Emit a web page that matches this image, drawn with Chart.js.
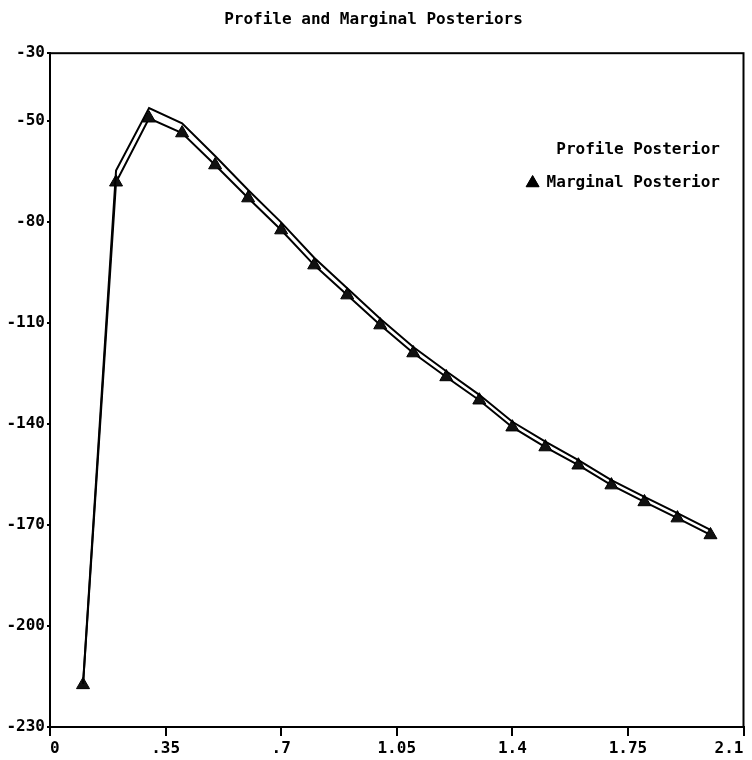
<!DOCTYPE html>
<html>
<head>
<meta charset="utf-8">
<script src="https://cdn.jsdelivr.net/npm/chart.js@4/dist/chart.umd.min.js"></script>
<style>
  html, body { margin: 0; padding: 0; background: #fff; }
  #wrap { width: 752px; height: 760px; }
</style>
</head>
<body>
<div id="wrap"><canvas id="posteriors"></canvas></div>
<script>
// values
const xs = [0.1, 0.2, 0.3, 0.4, 0.5, 0.6, 0.7, 0.8, 0.9, 1.0, 1.1, 1.2, 1.3, 1.4, 1.5, 1.6, 1.7, 1.8, 1.9, 2.0];
const marginal = [-217.5, -68.3, -49.3, -53.7, -63.2, -73.0, -82.5, -92.9, -101.8, -110.7, -119.0, -126.1, -133.0, -141.0, -146.9, -152.3, -158.2, -163.2, -168.0, -173.0];
const profile = [-217.2, -64.8, -46.3, -50.8, -60.5, -70.6, -80.2, -90.7, -99.8, -108.8, -117.2, -124.4, -131.4, -139.4, -145.3, -150.8, -156.7, -161.7, -166.5, -171.5];

const xTicks = [0, 0.35, 0.7, 1.05, 1.4, 1.75, 2.1];
const xTickLabels = ['0', '.35', '.7', '1.05', '1.4', '1.75', '2.1'];
const yTicks = [-230, -200, -170, -140, -110, -80, -50, -30];
const yTickLabels = ['-230', '-200', '-170', '-140', '-110', '-80', '-50', '-30'];

const FONT = '"DejaVu Sans Mono", "Liberation Mono", monospace';

// frame round the plot area (top and right sides too)
const frame = {
  id: 'frame',
  afterDraw(chart) {
    const { ctx, chartArea: a } = chart;
    ctx.save();
    ctx.strokeStyle = '#000';
    ctx.lineWidth = 2;
    ctx.strokeRect(a.left, a.top, a.right - a.left, a.bottom - a.top);
    ctx.restore();
  }
};

// legend sits inside the plot, right aligned
const insideLegend = {
  id: 'insideLegend',
  afterDraw(chart) {
    const { ctx } = chart;
    const sets = chart.data.datasets;
    ctx.save();
    ctx.fillStyle = '#000';
    ctx.font = 'bold 16px ' + FONT;
    ctx.textAlign = 'right';
    ctx.textBaseline = 'middle';
    ctx.fillText(sets[0].label, 720, 150);
    ctx.fillText(sets[1].label, 720, 183);
    const w = ctx.measureText(sets[1].label).width;
    Chart.helpers.drawPoint(ctx, { pointStyle: 'triangle', radius: 7.5, rotation: 0, borderWidth: 1 }, 720 - w - 14, 183);
    ctx.fill();
    ctx.restore();
  }
};

new Chart(document.getElementById('posteriors'), {
  type: 'line',
  data: {
    labels: xs,
    datasets: [
      {
        label: 'Profile Posterior',
        data: xs.map((x, i) => ({ x: x, y: profile[i] })),
        borderColor: '#000',
        borderWidth: 2,
        pointRadius: 0,
        tension: 0,
        fill: false
      },
      {
        label: 'Marginal Posterior',
        data: xs.map((x, i) => ({ x: x, y: marginal[i] })),
        borderColor: '#000',
        backgroundColor: '#111',
        borderWidth: 2,
        pointStyle: 'triangle',
        pointRadius: 7.5,
        pointBackgroundColor: '#111',
        pointBorderColor: '#000',
        pointBorderWidth: 1,
        tension: 0,
        fill: false
      }
    ]
  },
  options: {
    responsive: true,
    maintainAspectRatio: false,
    animation: false,
    layout: { padding: { left: 0, right: 5, top: 0, bottom: 0 } },
    plugins: {
      legend: { display: false },
      tooltip: { enabled: false },
      title: {
        display: true,
        text: 'Profile and Marginal Posteriors',
        color: '#000',
        font: { family: FONT, size: 16, weight: 'bold' },
        padding: { top: 10, bottom: 24 }
      }
    },
    scales: {
      x: {
        type: 'linear',
        min: 0,
        max: 2.1,
        afterBuildTicks: axis => { axis.ticks = xTicks.map(v => ({ value: v })); },
        afterFit: axis => { axis.height = 33; },
        grid: { display: true, drawOnChartArea: false, drawTicks: true, tickLength: 9, color: '#000', lineWidth: 2 },
        border: { display: true, color: '#000', width: 2 },
        ticks: {
          color: '#000',
          align: 'inner',
          maxRotation: 0,
          padding: 3,
          font: { family: FONT, size: 16, weight: 'bold' },
          callback: (v, i) => xTickLabels[i]
        }
      },
      y: {
        type: 'linear',
        min: -230,
        max: -30,
        afterBuildTicks: axis => { axis.ticks = yTicks.map(v => ({ value: v })); },
        afterFit: axis => { axis.width = 50; },
        grid: { display: true, drawOnChartArea: false, drawTicks: true, tickLength: 3, color: '#000', lineWidth: 2 },
        border: { display: true, color: '#000', width: 2 },
        ticks: {
          color: '#000',
          padding: 2,
          font: { family: FONT, size: 16, weight: 'bold' },
          callback: (v, i) => yTickLabels[i]
        }
      }
    }
  },
  plugins: [frame, insideLegend]
});
</script>
</body>
</html>
